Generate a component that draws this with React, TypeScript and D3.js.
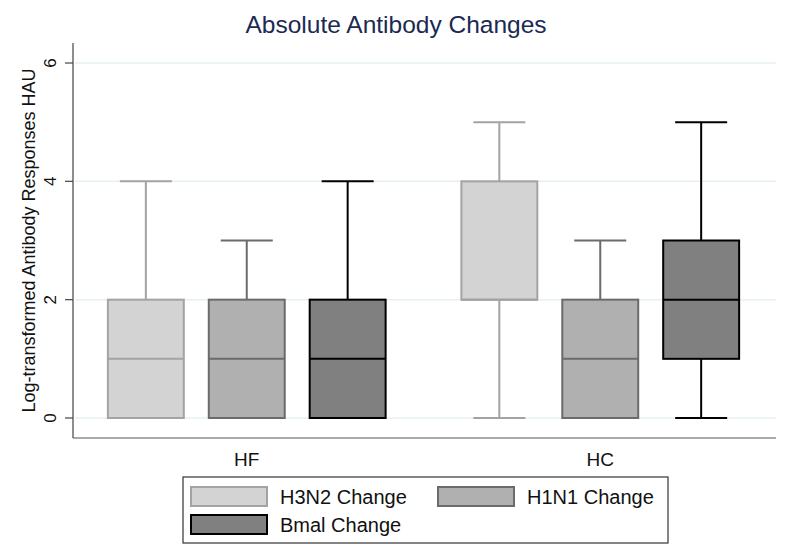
import { useEffect, useRef } from 'react';
import * as d3 from 'd3';

// groups and series
const groups = ['HF', 'HC'];
const series = ['H3N2 Change', 'H1N1 Change', 'Bmal Change'];

// [min, q1, median, q3, max] per group, one array per series
const h3n2Stats = [[0, 0, 1, 2, 4], [0, 2, 2, 4, 5]];
const h1n1Stats = [[0, 0, 1, 2, 3], [0, 0, 1, 2, 3]];
const bmalStats = [[0, 0, 1, 2, 4], [0, 1, 2, 3, 5]];

const yTicks = [0, 2, 4, 6];

const fills = ['#d3d3d3', '#b0b0b0', '#808080'];
const strokes = ['#a3a3a3', '#6b6b6b', '#000000'];

const W = 792;
const H = 553;

export default function App() {
  const svgRef = useRef<SVGSVGElement>(null);

  useEffect(() => {
    if (!svgRef.current) return;
    const svg = d3.select(svgRef.current);
    svg.selectAll('*').remove();

    const left = 73, right = 776, top = 43, bottom = 438;
    const font = 'Liberation Sans, Arial, Helvetica, sans-serif';

    const y = d3.scaleLinear().domain([0, 6]).range([418, 63]);
    const xGroup = d3.scaleBand().domain(groups).range([70, 777]);
    // step ~101px, box ~76px
    const innerW = 277.75;
    const xSeries = d3.scaleBand().domain(series).range([0, innerW]).paddingInner(0.2475).paddingOuter(0);

    const allStats = [h3n2Stats, h1n1Stats, bmalStats];

    svg.append('rect').attr('width', W).attr('height', H).attr('fill', '#ffffff');

    // grid
    svg.append('g').selectAll('line').data(yTicks).enter().append('line')
      .attr('x1', left + 2).attr('x2', right)
      .attr('y1', d => y(d)).attr('y2', d => y(d))
      .attr('stroke', '#e6f0f0').attr('stroke-width', 1.5);

    // axes
    svg.append('line').attr('x1', left).attr('x2', left).attr('y1', top).attr('y2', bottom)
      .attr('stroke', '#444').attr('stroke-width', 1.2);
    svg.append('line').attr('x1', left).attr('x2', right).attr('y1', bottom).attr('y2', bottom)
      .attr('stroke', '#555').attr('stroke-width', 1.2);

    const yAxis = svg.append('g');
    yAxis.selectAll('line').data(yTicks).enter().append('line')
      .attr('x1', left - 8).attr('x2', left)
      .attr('y1', d => y(d)).attr('y2', d => y(d))
      .attr('stroke', '#444').attr('stroke-width', 1.2);
    yAxis.selectAll('text').data(yTicks).enter().append('text')
      .attr('transform', d => `translate(56,${y(d)}) rotate(-90)`)
      .attr('text-anchor', 'middle')
      .attr('font-family', font).attr('font-size', 17).attr('fill', '#111')
      .text(d => d);

    svg.append('text')
      .attr('transform', `translate(35,${(top + bottom) / 2}) rotate(-90)`)
      .attr('text-anchor', 'middle')
      .attr('font-family', font).attr('font-size', 18).attr('fill', '#111')
      .text('Log-transformed Antibody Responses HAU');

    // title
    svg.append('text').attr('x', 396).attr('y', 33).attr('text-anchor', 'middle')
      .attr('font-family', font).attr('font-size', 24.5).attr('fill', '#1a2a52')
      .text('Absolute Antibody Changes');

    // boxes
    groups.forEach((g, gi) => {
      const gc = (xGroup(g) as number) + xGroup.bandwidth() / 2;
      const gx = gc - innerW / 2;
      series.forEach((s, si) => {
        const [mn, q1, med, q3, mx] = allStats[si][gi];
        const bx = gx + (xSeries(s) as number);
        const bw = xSeries.bandwidth();
        const cx = bx + bw / 2;
        const cap = 26;
        const gEl = svg.append('g');
        const col = strokes[si];
        // whiskers
        gEl.append('line').attr('x1', cx).attr('x2', cx).attr('y1', y(mx)).attr('y2', y(q3))
          .attr('stroke', col).attr('stroke-width', 2);
        gEl.append('line').attr('x1', cx).attr('x2', cx).attr('y1', y(q1)).attr('y2', y(mn))
          .attr('stroke', col).attr('stroke-width', 2);
        gEl.append('line').attr('x1', cx - cap).attr('x2', cx + cap).attr('y1', y(mx)).attr('y2', y(mx))
          .attr('stroke', col).attr('stroke-width', 2);
        gEl.append('line').attr('x1', cx - cap).attr('x2', cx + cap).attr('y1', y(mn)).attr('y2', y(mn))
          .attr('stroke', col).attr('stroke-width', 2);
        gEl.append('rect').attr('x', bx).attr('y', y(q3)).attr('width', bw).attr('height', y(q1) - y(q3))
          .attr('fill', fills[si]).attr('stroke', col).attr('stroke-width', 2);
        gEl.append('line').attr('x1', bx).attr('x2', bx + bw).attr('y1', y(med)).attr('y2', y(med))
          .attr('stroke', col).attr('stroke-width', 2);
      });
      svg.append('text').attr('x', gc).attr('y', 466).attr('text-anchor', 'middle')
        .attr('font-family', font).attr('font-size', 19).attr('fill', '#111').text(g);
    });

    // legend
    const lg = svg.append('g');
    lg.append('rect').attr('x', 183).attr('y', 477).attr('width', 485).attr('height', 66)
      .attr('fill', '#fff').attr('stroke', '#333').attr('stroke-width', 1.2);
    const legendPos = [[191, 487], [438, 487], [191, 515]];
    series.forEach((s, i) => {
      const [lx, ly] = legendPos[i];
      lg.append('rect').attr('x', lx).attr('y', ly).attr('width', 76).attr('height', 19)
        .attr('fill', fills[i]).attr('stroke', strokes[i]).attr('stroke-width', 2);
      lg.append('text').attr('x', lx + 89).attr('y', ly + 17)
        .attr('font-family', font).attr('font-size', 20).attr('fill', '#111').text(s);
    });
  }, []);

  return (
    <svg ref={svgRef} width={W} height={H}
      style={{ position: 'absolute', left: 0, top: 0, display: 'block' }} />
  );
}
